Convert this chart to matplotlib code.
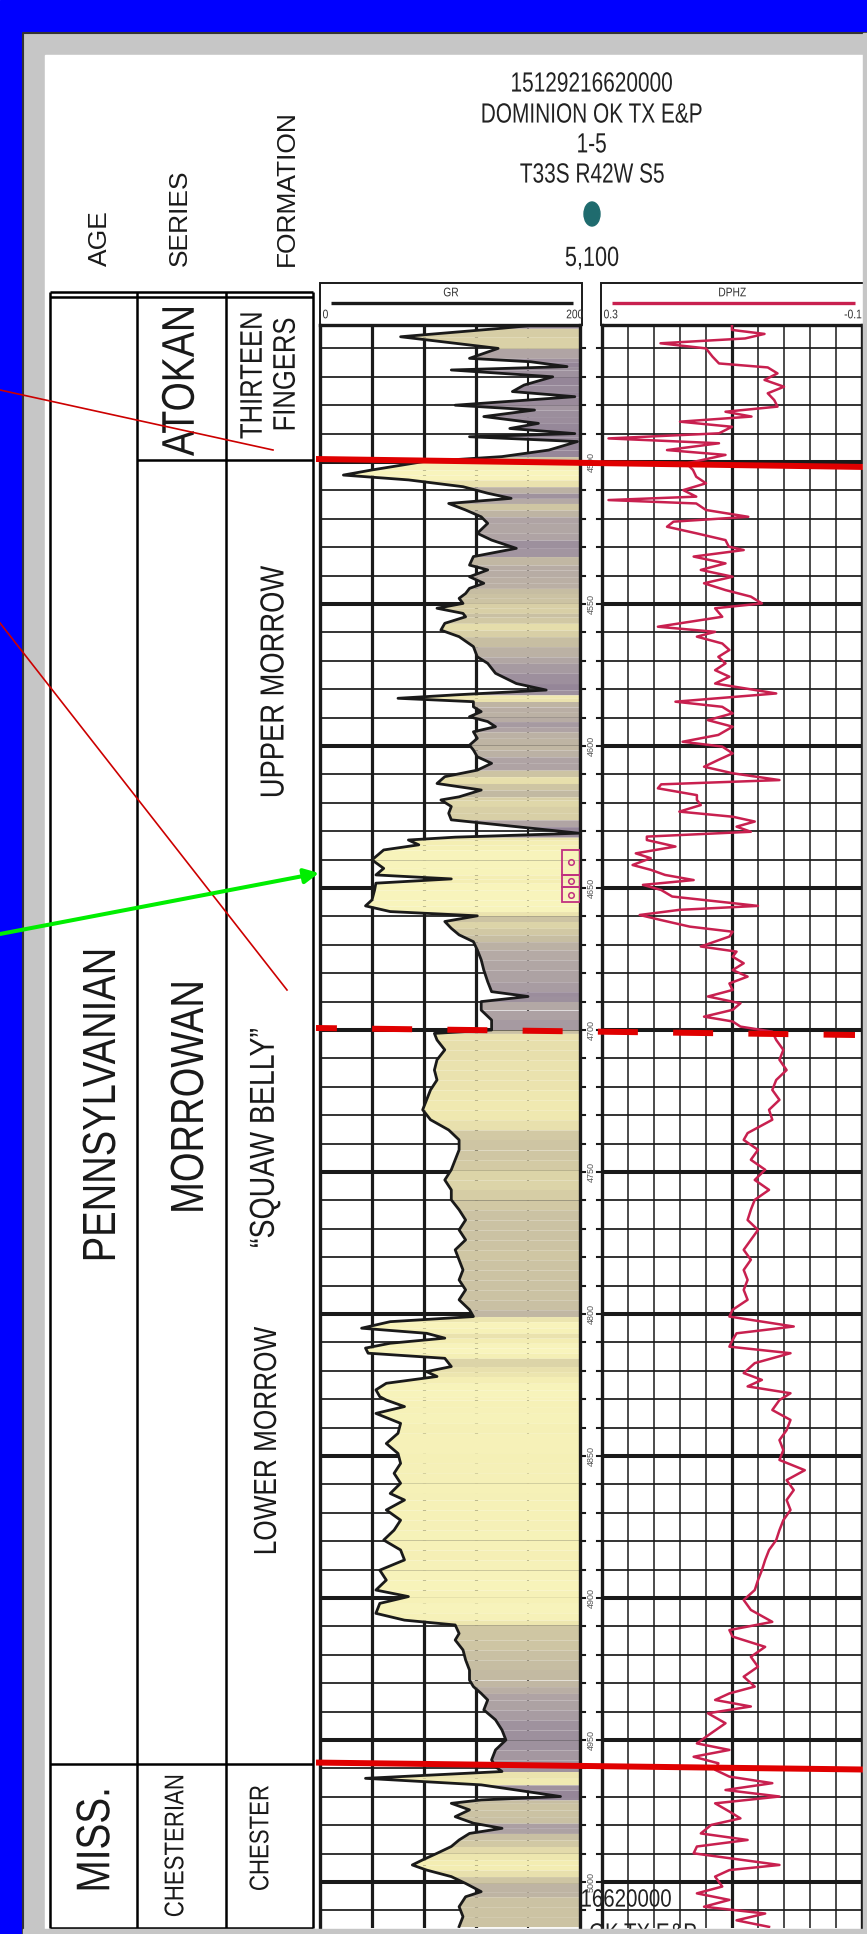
"""
Stratigraphic panel for the Dominion OK TX E&P 1-5 well (T33S R42W S5):
age / series / formation column next to the GR and DPHZ log tracks.
Saves out.png (867 x 1934 px).
"""
import matplotlib
matplotlib.use("Agg")
import matplotlib.pyplot as plt
from matplotlib.colors import LinearSegmentedColormap, Normalize
from matplotlib.font_manager import FontProperties
from matplotlib.patches import Rectangle, Ellipse, PathPatch
from matplotlib.textpath import TextPath
from matplotlib.transforms import Affine2D

# ---------------------------------------------------------------- data
gr_depth = [4451.8, 4452.9, 4455.9, 4460.0, 4463.5, 4464.7, 4466.4, 4467.6, 4470.0, 4472.9,
            4475.2, 4477.0, 4480.0, 4481.7, 4484.0, 4486.4, 4488.2, 4490.0, 4491.1, 4492.8,
            4495.8, 4498.1, 4499.9, 4502.8, 4504.6, 4506.3, 4508.7, 4511.0, 4512.8, 4514.6,
            4516.9, 4519.3, 4521.6, 4525.1, 4527.5, 4530.4, 4533.3, 4536.3, 4538.0, 4540.4,
            4542.7, 4544.5, 4546.3, 4548.0, 4549.8, 4551.5, 4553.3, 4554.5, 4556.8, 4559.2,
            4561.5, 4565.0, 4568.6, 4570.9, 4574.4, 4578.0, 4580.3, 4582.0, 4583.2, 4584.4,
            4586.2, 4587.9, 4589.7, 4591.4, 4593.2, 4595.0, 4597.3, 4599.7, 4601.4, 4603.8,
            4606.1, 4608.5, 4610.8, 4613.2, 4615.5, 4617.9, 4619.0, 4621.3, 4623.7, 4626.0,
            4628.4, 4630.7, 4632.1, 4633.1, 4634.8, 4636.6, 4640.1, 4643.1, 4645.4, 4646.8,
            4648.3, 4650.7, 4654.2, 4656.3, 4658.3, 4659.8, 4661.8, 4664.2, 4666.5, 4668.9,
            4671.8, 4675.3, 4678.9, 4683.0, 4686.5, 4688.2, 4690.0, 4693.0, 4696.5, 4700.0,
            4701.2, 4703.5, 4707.0, 4710.5, 4714.1, 4717.6, 4721.1, 4724.6, 4728.1, 4731.6,
            4735.2, 4738.7, 4742.2, 4745.7, 4749.2, 4752.8, 4756.3, 4759.8, 4763.3, 4766.9,
            4770.4, 4773.9, 4777.4, 4780.9, 4784.5, 4788.0, 4791.5, 4795.0, 4798.5, 4800.9,
            4802.7, 4805.0, 4806.8, 4808.5, 4810.3, 4812.0, 4813.8, 4815.6, 4818.5, 4820.3,
            4822.0, 4824.4, 4826.7, 4829.1, 4830.3, 4832.6, 4835.0, 4838.5, 4842.0, 4845.6,
            4849.1, 4852.6, 4856.1, 4859.6, 4863.2, 4865.5, 4869.0, 4872.6, 4876.1, 4879.6,
            4883.1, 4886.6, 4890.2, 4893.7, 4897.2, 4899.5, 4901.9, 4905.4, 4907.8, 4909.5,
            4912.5, 4914.8, 4918.3, 4921.8, 4925.4, 4928.9, 4931.2, 4933.6, 4935.9, 4939.4,
            4942.9, 4946.5, 4950.0, 4953.5, 4957.0, 4959.4, 4961.1, 4963.5, 4965.8, 4967.6,
            4969.9, 4971.1, 4972.3, 4974.6, 4977.0, 4979.3, 4981.1, 4982.9, 4985.2, 4987.5,
            4989.9, 4992.2, 4994.0, 4995.8, 4998.1, 5000.5, 5003.4, 5005.2, 5008.7, 5012.2,
            5015.7]
gr_api = [165, 140, 62, 137, 115, 162, 190, 101, 179, 157,
          148, 196, 104, 165, 126, 168, 146, 196, 115, 198,
          176, 140, 79, 40, 18, 68, 110, 129, 147, 99,
          112, 124, 129, 121, 132, 151, 118, 115, 129, 115,
          126, 115, 112, 107, 110, 90, 110, 112, 96, 93,
          107, 118, 121, 129, 135, 151, 174, 104, 60, 118,
          118, 124, 115, 129, 135, 118, 121, 115, 118, 121,
          132, 121, 96, 90, 124, 107, 93, 101, 99, 101,
          151, 199, 104, 68, 76, 49, 40, 49, 43, 101,
          43, 42, 40, 35, 54, 121, 96, 101, 107, 118,
          121, 124, 126, 129, 132, 160, 124, 124, 132, 132,
          88, 90, 96, 90, 88, 90, 85, 82, 79, 85,
          99, 107, 107, 104, 101, 96, 101, 101, 107, 112,
          107, 112, 104, 107, 110, 107, 112, 107, 115, 118,
          54, 32, 82, 96, 54, 35, 37, 96, 101, 82,
          90, 51, 43, 46, 51, 65, 43, 62, 60, 51,
          60, 62, 57, 62, 54, 65, 51, 62, 57, 49,
          62, 65, 46, 51, 43, 68, 46, 43, 65, 104,
          107, 104, 110, 112, 115, 115, 118, 124, 129, 126,
          135, 140, 143, 135, 132, 135, 140, 35, 124, 151,
          185, 124, 101, 115, 104, 118, 140, 115, 107, 101,
          90, 79, 71, 82, 101, 112, 124, 112, 107, 110,
          107]

dphz_depth = [4451.8, 4453.5, 4454.9, 4456.5, 4458.2, 4460.0, 4462.9, 4465.3, 4466.7, 4468.8,
              4471.1, 4473.5, 4475.8, 4478.2, 4480.5, 4482.3, 4484.0, 4485.8, 4487.6, 4489.9,
              4491.7, 4493.4, 4495.8, 4497.5, 4500.5, 4502.8, 4505.2, 4507.5, 4509.9, 4512.2,
              4513.4, 4514.6, 4516.9, 4519.3, 4521.0, 4522.8, 4525.1, 4527.5, 4529.8, 4531.0,
              4533.3, 4535.7, 4538.0, 4540.4, 4542.7, 4545.1, 4547.4, 4549.8, 4551.5, 4554.5,
              4558.0, 4559.8, 4561.5, 4563.9, 4566.2, 4568.6, 4570.9, 4573.3, 4575.6, 4578.0,
              4581.5, 4584.4, 4586.2, 4588.5, 4590.9, 4593.2, 4596.1, 4598.5, 4600.2, 4602.6,
              4604.9, 4607.3, 4609.6, 4612.0, 4613.5, 4614.9, 4617.3, 4619.0, 4620.8, 4623.1,
              4624.9, 4626.6, 4628.4, 4630.2, 4631.9, 4633.1, 4635.4, 4637.8, 4639.5, 4641.9,
              4643.6, 4645.4, 4647.2, 4648.9, 4650.7, 4653.0, 4656.3, 4657.7, 4659.5, 4661.3,
              4663.6, 4665.4, 4667.1, 4670.6, 4672.4, 4674.2, 4676.5, 4678.9, 4681.2, 4683.6,
              4685.9, 4688.2, 4690.6, 4692.9, 4695.3, 4697.0, 4698.8, 4700.6, 4703.5, 4707.0,
              4710.5, 4714.1, 4717.6, 4721.1, 4724.6, 4728.1, 4731.6, 4736.3, 4738.7, 4742.2,
              4745.7, 4749.2, 4752.8, 4756.3, 4759.8, 4763.3, 4766.9, 4770.4, 4773.9, 4777.4,
              4780.9, 4784.5, 4788.0, 4791.5, 4795.0, 4798.5, 4800.9, 4804.4, 4806.8, 4809.1,
              4811.5, 4813.8, 4817.3, 4820.8, 4823.2, 4825.5, 4827.9, 4830.3, 4833.8, 4837.3,
              4840.9, 4844.4, 4847.9, 4851.4, 4855.0, 4858.5, 4862.0, 4865.5, 4869.0, 4872.6,
              4876.1, 4879.6, 4883.1, 4886.6, 4890.2, 4893.7, 4897.2, 4900.7, 4904.2, 4908.4,
              4911.3, 4913.6, 4917.2, 4920.7, 4924.2, 4927.7, 4931.2, 4933.6, 4935.9, 4938.2,
              4940.6, 4944.1, 4947.6, 4951.2, 4953.5, 4955.9, 4958.2, 4960.5, 4962.9, 4965.2,
              4967.6, 4969.9, 4972.3, 4975.2, 4977.6, 4979.9, 4982.9, 4985.2, 4987.5, 4989.9,
              4994.0, 4995.8, 4998.1, 5001.6, 5004.0, 5006.3, 5008.7, 5011.1, 5013.5, 5015.8]
dphz_val = [0.10, 0.10, 0.05, 0.08, 0.21, 0.14, 0.13, 0.12, 0.045, 0.03,
            0.05, 0.02, 0.045, 0.035, 0.03, 0.11, 0.07, 0.18, 0.10, 0.12,
            0.29, 0.12, 0.20, 0.11, 0.17, 0.16, 0.155, 0.14, 0.175, 0.155,
            0.29, 0.155, 0.14, 0.075, 0.19, 0.20, 0.155, 0.11, 0.105, 0.082,
            0.159, 0.110, 0.148, 0.099, 0.143, 0.110, 0.071, 0.054, 0.126, 0.115,
            0.214, 0.126, 0.154, 0.115, 0.104, 0.121, 0.110, 0.126, 0.104, 0.126,
            0.032, 0.187, 0.115, 0.099, 0.137, 0.099, 0.121, 0.176, 0.115, 0.099,
            0.121, 0.143, 0.099, 0.027, 0.209, 0.214, 0.154, 0.154, 0.148, 0.181,
            0.099, 0.065, 0.093, 0.071, 0.231, 0.231, 0.187, 0.248, 0.225, 0.253,
            0.225, 0.203, 0.159, 0.237, 0.209, 0.192, 0.060, 0.181, 0.242, 0.209,
            0.165, 0.099, 0.104, 0.148, 0.093, 0.099, 0.082, 0.099, 0.076, 0.104,
            0.099, 0.137, 0.087, 0.099, 0.143, 0.099, 0.087, 0.038, 0.032, 0.021,
            0.027, 0.016, 0.032, 0.038, 0.027, 0.043, 0.038, 0.076, 0.082, 0.060,
            0.071, 0.049, 0.065, 0.043, 0.065, 0.071, 0.076, 0.060, 0.071, 0.082,
            0.071, 0.082, 0.076, 0.082, 0.076, 0.099, 0.104, 0.005, 0.093, 0.099,
            0.104, 0.010, 0.065, 0.082, 0.054, 0.076, 0.010, 0.027, 0.038, 0.010,
            0.016, 0.027, 0.021, 0.027, -0.012, 0.016, 0.005, 0.016, 0.010, 0.021,
            0.027, 0.032, 0.043, 0.049, 0.054, 0.060, 0.065, 0.082, 0.071, 0.038,
            0.104, 0.099, 0.049, 0.071, 0.060, 0.082, 0.065, 0.104, 0.126, 0.071,
            0.137, 0.110, 0.132, 0.154, 0.104, 0.159, 0.121, 0.126, 0.104, 0.038,
            0.110, 0.027, 0.126, 0.104, 0.087, 0.132, 0.148, 0.076, 0.154, 0.159,
            0.027, 0.104, 0.126, 0.115, 0.154, 0.104, 0.143, 0.049, 0.093, 0.043]

depth_labels = [4500, 4550, 4600, 4650, 4700, 4750, 4800, 4850, 4900, 4950, 5000]
top_morrow = 4500          # Atoka / Morrow contact (solid red)
base_squaw_belly = 4700    # Upper / Lower Morrow pick (dashed red)
top_chester = 4959         # Morrow / Chester contact (solid red)
core_depths = [4636.6, 4645.4, 4649.8, 4654.8]

header_lines = ["15129216620000", "DOMINION OK TX E&P", "1-5", "T33S R42W S5"]
elevation = "5,100"

# ---------------------------------------------------------------- layout (pixels)
W, H, DPI = 867, 1934, 100
PT = DPI / 72.0
PX_PER_FT = 2.84
Y_4700 = 1030
TRACK_TOP, TRACK_BOT = 325, 1928
GR_X = (320, 580)
DEP_X = (580, 602)
DP_X = (602, 862)

BLUE = "#0000FF"
GREY = "#C6C6C6"
RED = "#E00000"
DPHZ_COLOR = "#C8204F"
INK = "#1A1A1A"
SANS = "Liberation Sans"

GR_CMAP = LinearSegmentedColormap.from_list(
    "gr_fill", [(0.0, "#F8F4BC"), (0.3, "#F3EDB2"), (0.45, "#E6DEAC"), (0.52, "#D3CAA4"),
                (0.62, "#C5BCA2"), (0.7, "#B3A8A5"), (0.8, "#A0939F"), (1.0, "#958698")])
GR_NORM = Normalize(40, 160)


def ypx(d):
    return Y_4700 + (d - 4700) * PX_PER_FT


def depth_at(y):
    return 4700 + (y - Y_4700) / PX_PER_FT


def px_axes(fig, x0, y0, x1, y1, **kw):
    return fig.add_axes([x0 / W, 1 - y1 / H, (x1 - x0) / W, (y1 - y0) / H], **kw)


def canvas(fig, zorder):
    ax = fig.add_axes([0, 0, 1, 1], zorder=zorder)
    ax.set_xlim(0, W)
    ax.set_ylim(H, 0)
    ax.axis("off")
    ax.patch.set_alpha(0)
    return ax


def ctext(ax, x, y, s, size, rotation=0, ha="center", color=INK, sx=0.82, zorder=3):
    """Condensed text (no narrow face installed): glyph outlines squeezed along the baseline."""
    path = TextPath((0, 0), s, size=size, prop=FontProperties(family=SANS))
    ext = path.get_extents()
    x_ref = ext.x0 if ha == "left" else (ext.x0 + ext.x1) / 2
    tr = (Affine2D().translate(-x_ref, -(ext.y0 + ext.y1) / 2)
          .scale(sx * PT, PT).rotate_deg(rotation).scale(1, -1).translate(x, y))
    ax.add_patch(PathPatch(tr.transform_path(path), fc=color, ec="none", zorder=zorder))


def depth_grid(ax):
    for d in range(4460, 5020, 10):
        thick = d % 50 == 0
        ax.axhline(d, color=INK, lw=2.9 if thick else 1.25, zorder=1)


def style_track(ax, xlim):
    ax.set_xlim(*xlim)
    ax.set_ylim(depth_at(TRACK_BOT), depth_at(TRACK_TOP))
    ax.set_xticks([])
    ax.set_yticks([])
    for s in ax.spines.values():
        s.set_linewidth(2.4)
        s.set_color(INK)
    ax.spines["bottom"].set_visible(False)


fig = plt.figure(figsize=(W / DPI, H / DPI), dpi=DPI)

# ---------------------------------------------------------------- background + table
bg = canvas(fig, 0)
bg.add_patch(Rectangle((0, 0), W, H, color=BLUE))
bg.add_patch(Rectangle((23, 33), W - 23, H - 33, color=GREY))
bg.plot([23, 23, W], [H, 33, 33], color="#333333", lw=1.5)
bg.add_patch(Rectangle((45, 55), 863 - 45, 1929 - 55, color="white"))

for x, label in [(100, "AGE"), (180, "SERIES"), (287, "FORMATION")]:
    bg.text(x, 266, label, rotation=90, ha="center", va="bottom", fontsize=19,
            family=SANS, color=INK)

tab_l, tab_r, c1, c2 = 50, 313, 137, 226
tab_t, tab_b = 292, 1928
lk = dict(color="black", lw=1.8, solid_capstyle="butt")
bg.plot([tab_l, tab_r], [tab_t, tab_t], **lk)
bg.plot([tab_l, tab_r], [tab_t + 5, tab_t + 5], **lk)
bg.plot([tab_l, tab_r], [tab_b, tab_b], **lk)
for x in (tab_l, c1, c2, tab_r):
    bg.plot([x, x], [tab_t, tab_b], **lk)
bg.plot([c1, tab_r], [460, 460], **lk)
bg.plot([tab_l, tab_r], [1764, 1764], **lk)

cells = [
    (99, 1105, "PENNSYLVANIAN", 33.5),
    (187, 1097, "MORROWAN", 33.5),
    (178, 382, "ATOKAN", 33),
    (251, 376, "THIRTEEN", 22.5),
    (284, 374, "FINGERS", 22.5),
    (272, 681, "UPPER MORROW", 24),
    (265, 1138, "\u201cSQUAW BELLY\u201d", 25),
    (265, 1440, "LOWER MORROW", 23),
    (93, 1840, "MISS.", 34),
    (174, 1846, "CHESTERIAN", 19.5),
    (259, 1838, "CHESTER", 19.5),
]
for x, y, label, size in cells:
    ctext(bg, x, y, label, size, rotation=90)

# ---------------------------------------------------------------- well header
for y, line in zip([82, 113, 143, 173], header_lines):
    ctext(bg, 592, y, line, 20, color="#222222", sx=0.75)
bg.add_patch(Ellipse((592, 214), 16, 24, color="#1F6B6E"))
ctext(bg, 592, 258, elevation, 20, color="#222222", sx=0.78)

for (x0, x1), name, lo, hi, col in [((320, 582), "GR", "0", "200", INK),
                                    ((601, 864), "DPHZ", "0.3", "-0.1", DPHZ_COLOR)]:
    bg.add_patch(Rectangle((x0, 283), x1 - x0, 42, fill=False, ec=INK, lw=1.4))
    bg.plot([x0 + 11, x1 - 9], [303, 303], color=col, lw=2.4, solid_capstyle="butt")
    ctext(bg, (x0 + x1) / 2, 292, name, 9, color="#333333")
    ctext(bg, x0 + 3, 314, lo, 9, ha="left", color="#333333")
    ctext(bg, x1 - 3 - len(hi) * 4.1, 314, hi, 9, ha="left", color="#333333")

# ---------------------------------------------------------------- GR track
ax_gr = px_axes(fig, GR_X[0], TRACK_TOP, GR_X[1], TRACK_BOT, zorder=1)
style_track(ax_gr, (0, 200))
depth_grid(ax_gr)
for g, lw in [(40, 2.3), (80, 2.3), (120, 2.3), (160, 1.5)]:
    ax_gr.axvline(g, color=INK, lw=lw, zorder=1)
for i in range(len(gr_depth) - 1):
    mid = (gr_api[i] + gr_api[i + 1]) / 2
    ax_gr.fill_betweenx([gr_depth[i], gr_depth[i + 1]], [gr_api[i], gr_api[i + 1]], 200,
                        color=GR_CMAP(GR_NORM(mid)), lw=0, antialiased=False, zorder=2)
ax_gr.plot(gr_api, gr_depth, color=INK, lw=2.0, zorder=3)
for top, base in zip(core_depths[:-1], core_depths[1:]):
    ax_gr.add_patch(Rectangle((186, top), 14, base - top, fill=False, ec="#C03080", lw=1.3, zorder=4))
    ax_gr.plot(193, (top + base) / 2, "o", ms=4, mfc="none", mec="#C03080", mew=1.1, zorder=4)

# ---------------------------------------------------------------- depth column
ax_dep = px_axes(fig, DEP_X[0], TRACK_TOP, DEP_X[1], TRACK_BOT, zorder=1)
ax_dep.set_xlim(0, 1)
ax_dep.set_ylim(depth_at(TRACK_BOT), depth_at(TRACK_TOP))
ax_dep.axis("off")
for d in range(4460, 5020, 10):
    ax_dep.plot([0, 0.22], [d, d], color=INK, lw=1.5)
    ax_dep.plot([0.78, 1], [d, d], color=INK, lw=1.5)
for d in depth_labels:
    ax_dep.text(0.5, d, str(d), rotation=90, ha="center", va="center", fontsize=6.5,
                family=SANS, color="#555555")

# ---------------------------------------------------------------- DPHZ track
ax_dp = px_axes(fig, DP_X[0], TRACK_TOP, DP_X[1], TRACK_BOT, zorder=1)
style_track(ax_dp, (0.3, -0.1))
depth_grid(ax_dp)
for k in range(1, 10):
    ax_dp.axvline(0.3 - 0.04 * k, color=INK, lw=2.3 if k == 5 else 1.1, zorder=1)
ax_dp.plot(dphz_val, dphz_depth, color=DPHZ_COLOR, lw=1.8, zorder=3)

# ---------------------------------------------------------------- picks, arrows, frame
ov = canvas(fig, 5)
ov.plot([316, W], [ypx(top_morrow) - 3, ypx(top_morrow) + 5], color=RED, lw=4.3,
        solid_capstyle="butt")
ov.plot([316, 855], [ypx(base_squaw_belly) - 2, ypx(base_squaw_belly) + 5], color=RED, lw=4.3,
        linestyle=(3.2, (6.7, 5.9)), dash_capstyle="butt")
ov.plot([316, W], [ypx(top_chester) - 3, ypx(top_chester) + 4], color=RED, lw=4.3,
        solid_capstyle="butt")

ov.plot([0, 273], [390, 450], color="#CC0000", lw=1.2)
ov.plot([0, 287], [623, 990], color="#CC0000", lw=1.2)
ov.annotate("", xy=(319, 873), xytext=(0, 934),
            arrowprops=dict(arrowstyle="-|>", color="#00EE00", lw=2.9, mutation_scale=22,
                            shrinkA=0, shrinkB=0))

ctext(ov, 582, 1898, "16620000", 18, ha="left", color="#222222", zorder=5)
ctext(ov, 590, 1932, "OK TX E&P", 18, ha="left", color="#222222", zorder=5)
ov.add_patch(Rectangle((23, 1929), W - 23, H - 1929, color=GREY, zorder=6))
ov.add_patch(Rectangle((863, 33), W - 863, H - 33, color=GREY, zorder=6))

fig.savefig("out.png", dpi=DPI)
plt.close(fig)
